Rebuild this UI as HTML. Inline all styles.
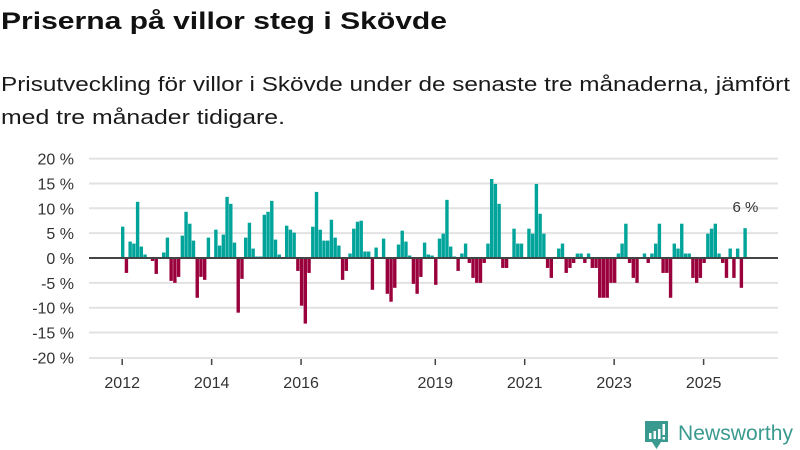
<!DOCTYPE html>
<html><head><meta charset="utf-8">
<style>
html,body{margin:0;padding:0;background:#fff;}
body{width:800px;height:450px;overflow:hidden;position:relative;font-family:"Liberation Sans",sans-serif;color:#111;}
svg{position:absolute;left:0;top:0;}
</style></head><body>
<svg width="800" height="140">
  <text x="1" y="29" font-size="24" font-weight="bold" fill="#111" font-family="Liberation Sans, sans-serif" textLength="446" lengthAdjust="spacingAndGlyphs">Priserna på villor steg i Skövde</text>
  <text x="1" y="91" font-size="20" fill="#1a1a1a" font-family="Liberation Sans, sans-serif" textLength="789" lengthAdjust="spacingAndGlyphs">Prisutveckling för villor i Skövde under de senaste tre månaderna, jämfört</text>
  <text x="1" y="124" font-size="20" fill="#1a1a1a" font-family="Liberation Sans, sans-serif" textLength="284" lengthAdjust="spacingAndGlyphs">med tre månader tidigare.</text>
</svg>
<svg id="chart" width="800" height="450"></svg>
<script>
const values = [6.3,-3,3.3,2.9,11.3,2.3,0.7,0,-0.6,-3.2,0,1.1,4.1,-4.6,-5,-3.8,4.5,9.3,6.9,3.5,-8,-3.8,-4.4,4.1,0,5.7,2.5,4.7,12.3,10.9,3.1,-11,-4.2,4.1,7.1,1.9,0.3,0.3,8.7,9.3,11.5,3.7,0.7,0,6.5,5.7,5.1,-2.6,-9.6,-13.2,-3,6.3,13.3,5.7,3.5,3.5,7.7,4.1,2.5,-4.4,-2.6,0.9,5.9,7.3,7.5,1.3,1.3,-6.4,2.1,0,3.9,-7.2,-8.8,-6,2.7,5.5,3.3,0.5,-5.2,-7.2,-3.8,3.1,0.7,0.5,-5.4,3.9,4.9,11.7,2.3,0.3,-2.6,0.9,2.9,-1,-4,-5,-5,-1,2.9,15.9,14.9,10.9,-2,-2,0,5.9,2.9,2.9,0,5.9,4.9,14.9,8.9,4.9,-2,-4,0,1.9,2.9,-3,-2,-1,0.9,0.9,-1,0.9,-2,-2,-8,-8,-8,-5,-5,0.9,2.9,6.9,-1,-4,-5,0,0.9,-1,0.9,2.9,6.9,-3,-3,-8,2.9,1.9,6.9,0.9,0.9,-4,-5,-4,-1,4.9,5.9,6.9,0.9,-1,-4,1.9,-4,1.9,-6,6];
const startYear = 2012;
const yTicks = [20,15,10,5,0,-5,-10,-15,-20];
const xTickYears = [2012,2014,2016,2019,2021,2023,2025];
const lastLabel = "6 %";

const NS="http://www.w3.org/2000/svg";
const svg=document.getElementById('chart');
const X0=121, STEP=3.727, BW=3.4, PL=89, PR=778;
const y=v=>258-v*4.97;
const x=i=>X0+i*STEP;
function mk(t,a,p){const e=document.createElementNS(NS,t);for(const k in a)e.setAttribute(k,a[k]);(p||svg).appendChild(e);return e;}

yTicks.forEach(t=>{
  if(t!==0&&t!==-20){
    const g=mk('line',{x1:PL,x2:PR,y1:y(t),y2:y(t),stroke:'#e2e2e2','stroke-width':2});
    
    
  }
  const l=mk('text',{x:74,y:y(t)+6,'text-anchor':'end','font-size':16,fill:'#333','font-family':'Liberation Sans, sans-serif'});
  l.textContent=t+' %';
  
  
});
const ax=mk('line',{x1:PL,x2:PR,y1:358,y2:358,stroke:'#dcdcdc','stroke-width':1.5});



values.forEach((v,i)=>{
  if(v===0)return;
  const top=Math.min(y(v),y(0)), h=Math.abs(y(v)-y(0));
  const r=mk('rect',{x:x(i),y:top,width:BW,height:h,fill:v>0?'#00a49a':'#99003c'});
  
  
});
const z=mk('line',{x1:PL,x2:PR,y1:y(0),y2:y(0),stroke:'#444','stroke-width':2});



xTickYears.forEach(yr=>{
  const cx=x((yr-startYear)*12)+1.2;
  const tk=mk('line',{x1:cx,x2:cx,y1:359,y2:365,stroke:'#444','stroke-width':1.5});
  
  
  const t=mk('text',{x:cx,y:388,'text-anchor':'middle','font-size':16,fill:'#333','font-family':'Liberation Sans, sans-serif'});
  t.textContent=yr;
  
  
});
const li=values.length-1;
const vl=mk('text',{x:x(li)+2,y:y(values[li])-16,'text-anchor':'middle','font-size':15,fill:'#333','font-family':'Liberation Sans, sans-serif'});
vl.textContent=lastLabel;


</script>
<svg width="800" height="450" style="pointer-events:none">
  <path d="M645 421 h23 v21 h-7 l-4.5 7 l-4.5 -7 h-7 z" fill="#3a9a8f"/>
  <rect x="649" y="433" width="2.5" height="6" fill="#fff"/>
  <rect x="653.5" y="431" width="2.5" height="8" fill="#fff"/>
  <rect x="658" y="429" width="2.5" height="10" fill="#fff"/>
  <rect x="662.5" y="424" width="2.5" height="11" fill="#fff"/>
  <rect x="662.5" y="437" width="2.5" height="2.5" fill="#fff"/>
  <text x="678" y="440" font-size="21" fill="#3a9a8f" font-family="Liberation Sans, sans-serif" textLength="115">Newsworthy</text>
</svg>
</body></html>
